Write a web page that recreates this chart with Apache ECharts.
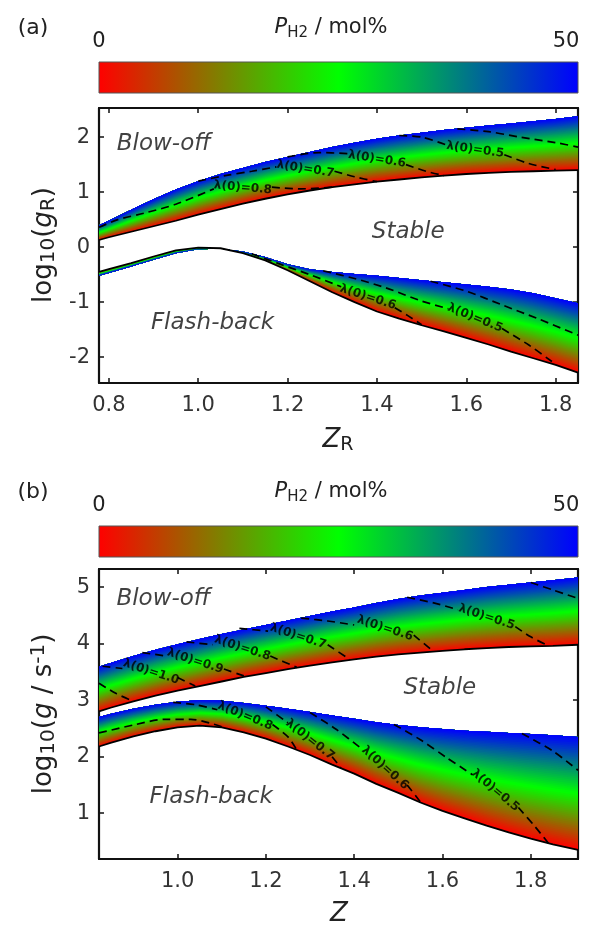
<!DOCTYPE html>
<html>
<head>
<meta charset="utf-8">
<script src="https://cdn.jsdelivr.net/npm/echarts@6/dist/echarts.min.js"></script>
<style>
html,body{margin:0;padding:0;background:#fff;}
#main{width:593px;height:926px;}
</style>
</head>
<body>
<div id="main"></div>
<script>
var FONT = 'DejaVu Sans';
// colour map of P_H2 (0 -> 50 mol%)
var cmap = ['#ff0000', '#00ff00', '#0000ff'];
var barTicks = ['0', '50'];

var xTicksA = [0.8, 1.0, 1.2, 1.4, 1.6, 1.8];
var yTicksA = [-2, -1, 0, 1, 2];
var xTicksB = [1.0, 1.2, 1.4, 1.6, 1.8];
var yTicksB = [1, 2, 3, 4, 5];

// (a) log10(gR) vs ZR, lower edge = 0 mol%, upper edge = 50 mol%
var zA = [0.778, 0.8, 0.85, 0.9, 0.95, 1.0, 1.05, 1.1, 1.15, 1.2, 1.25, 1.3, 1.35, 1.4, 1.45, 1.5, 1.55, 1.6, 1.65, 1.7, 1.75, 1.8, 1.85];
var blowLoA = [0.13, 0.18, 0.28, 0.38, 0.48, 0.59, 0.69, 0.79, 0.88, 0.96, 1.03, 1.09, 1.14, 1.19, 1.23, 1.27, 1.30, 1.33, 1.35, 1.37, 1.38, 1.39, 1.40];
var blowHiA = [0.40, 0.48, 0.68, 0.87, 1.05, 1.20, 1.33, 1.44, 1.55, 1.64, 1.73, 1.82, 1.90, 1.97, 2.03, 2.08, 2.13, 2.17, 2.21, 2.25, 2.29, 2.33, 2.38];
var flashLoA = [-0.45, -0.40, -0.29, -0.17, -0.06, -0.01, -0.02, -0.11, -0.24, -0.42, -0.62, -0.82, -1.0, -1.17, -1.3, -1.42, -1.53, -1.65, -1.77, -1.90, -2.02, -2.14, -2.28];
var flashHiA = [-0.52, -0.47, -0.35, -0.23, -0.11, -0.04, -0.03, -0.08, -0.18, -0.31, -0.40, -0.45, -0.49, -0.52, -0.56, -0.60, -0.64, -0.68, -0.72, -0.77, -0.84, -0.93, -1.02];

// (b) log10(g / s-1) vs Z
var zB = [0.822, 0.85, 0.9, 0.95, 1.0, 1.05, 1.1, 1.15, 1.2, 1.25, 1.3, 1.35, 1.4, 1.45, 1.5, 1.55, 1.6, 1.65, 1.7, 1.75, 1.8, 1.85, 1.907];
var blowLoB = [2.80, 2.87, 2.98, 3.08, 3.17, 3.25, 3.33, 3.41, 3.48, 3.55, 3.61, 3.67, 3.72, 3.77, 3.81, 3.84, 3.87, 3.90, 3.92, 3.94, 3.95, 3.96, 3.98];
var blowHiB = [3.59, 3.66, 3.78, 3.89, 3.99, 4.08, 4.17, 4.25, 4.33, 4.41, 4.49, 4.57, 4.64, 4.72, 4.79, 4.85, 4.90, 4.95, 5.00, 5.04, 5.08, 5.12, 5.17];
var flashLoB = [2.18, 2.25, 2.36, 2.45, 2.52, 2.55, 2.52, 2.43, 2.32, 2.18, 2.03, 1.86, 1.70, 1.52, 1.36, 1.19, 1.04, 0.91, 0.78, 0.66, 0.55, 0.45, 0.35];
var flashHiB = [2.70, 2.76, 2.85, 2.92, 2.97, 3.00, 2.99, 2.95, 2.90, 2.85, 2.79, 2.73, 2.67, 2.61, 2.56, 2.52, 2.49, 2.46, 2.44, 2.42, 2.40, 2.38, 2.35];

// lambda(0) contours, split where the label sits
var contA = [
  [[[0.778, 0.36], [0.82, 0.5], [0.88, 0.62], [0.95, 0.78], [1.035, 1.06]], [[1.165, 1.09], [1.23, 1.06], [1.3, 1.09]]],
  [[[1.0, 1.2], [1.06, 1.3], [1.12, 1.38], [1.175, 1.46]], [[1.305, 1.38], [1.35, 1.28], [1.4, 1.19]]],
  [[[1.2, 1.64], [1.27, 1.72], [1.335, 1.7]], [[1.465, 1.5], [1.51, 1.38], [1.55, 1.3]]],
  [[[1.45, 2.03], [1.5, 2.0], [1.555, 1.86]], [[1.685, 1.68], [1.74, 1.52], [1.8, 1.41]]],
  [[[1.58, 2.15], [1.65, 2.1], [1.72, 2.0], [1.8, 1.9], [1.85, 1.82]]],
  [[[1.12, -0.12], [1.18, -0.3], [1.25, -0.5], [1.32, -0.72]], [[1.44, -1.1], [1.47, -1.25], [1.5, -1.41]]],
  [[[1.28, -0.43], [1.35, -0.57], [1.42, -0.74], [1.5, -0.98], [1.56, -1.12]], [[1.68, -1.48], [1.74, -1.78], [1.79, -2.07], [1.8, -2.13]]],
  [[[1.52, -0.62], [1.6, -0.8], [1.68, -1.05], [1.76, -1.3], [1.85, -1.6]]]
];
var contB = [
  [[[0.822, 3.3], [0.86, 3.12], [0.9, 2.98]]],
  [[[0.83, 3.6], [0.875, 3.56]], [[1.0, 3.4], [1.04, 3.25]]],
  [[[0.92, 3.84], [0.975, 3.78]], [[1.105, 3.55], [1.15, 3.43]]],
  [[[1.02, 4.03], [1.08, 3.98]], [[1.21, 3.78], [1.27, 3.58]]],
  [[[1.14, 4.27], [1.205, 4.22]], [[1.34, 3.98], [1.39, 3.72]]],
  [[[1.28, 4.45], [1.34, 4.4], [1.4, 4.33]], [[1.535, 4.15], [1.58, 3.86]]],
  [[[1.52, 4.82], [1.58, 4.72], [1.635, 4.6]], [[1.765, 4.3], [1.8, 4.12], [1.84, 3.96]]],
  [[[1.8, 5.08], [1.85, 4.95], [1.907, 4.8]]],
  [[[0.822, 2.42], [0.9, 2.56], [0.97, 2.66], [1.03, 2.66], [1.1, 2.53]]],
  [[[0.99, 2.96], [1.04, 2.92], [1.09, 2.83]], [[1.215, 2.57], [1.25, 2.35], [1.27, 2.12]]],
  [[[1.2, 2.88], [1.25, 2.6]], [[1.35, 2.0], [1.37, 1.8]]],
  [[[1.3, 2.78], [1.36, 2.48], [1.42, 2.12]], [[1.52, 1.5], [1.55, 1.2]]],
  [[[1.49, 2.57], [1.55, 2.3], [1.61, 1.98], [1.668, 1.68]], [[1.772, 1.1], [1.81, 0.76], [1.84, 0.47]]],
  [[[1.78, 2.41], [1.85, 2.1], [1.907, 1.76]]]
];

var labA = [['λ(0)=0.8', 1.10, 1.08], ['λ(0)=0.7', 1.24, 1.42], ['λ(0)=0.6', 1.40, 1.6], ['λ(0)=0.5', 1.62, 1.77], ['λ(0)=0.6', 1.38, -0.91], ['λ(0)=0.5', 1.62, -1.29]];
var rotA = [-5, -9, -9, -8, -18, -22];
var labB = [['λ(0)=1.0', 0.94, 3.5], ['λ(0)=0.9', 1.04, 3.69], ['λ(0)=0.8', 1.147, 3.92], ['λ(0)=0.7', 1.273, 4.13], ['λ(0)=0.6', 1.47, 4.27], ['λ(0)=0.5', 1.70, 4.47],
  ['λ(0)=0.8', 1.153, 2.72], ['λ(0)=0.7', 1.30, 2.3], ['λ(0)=0.6', 1.47, 1.8], ['λ(0)=0.5', 1.72, 1.4]];
var rotB = [-18, -18, -18, -18, -18, -18, -22, -38, -42, -40];

var regionA = [['Blow-off', 0.923, 1.87], ['Stable', 1.47, 0.27], ['Flash-back', 1.032, -1.38]];
var regionB = [['Blow-off', 0.968, 4.79], ['Stable', 1.594, 3.21], ['Flash-back', 1.076, 1.28]];

var STRIPS = 60;
var stops = cmap.map(function (c, i) { return {offset: i / (cmap.length - 1), color: c}; });
function cmapAt(t) {
  var n = cmap.length - 1, k = Math.min(n - 1, Math.floor(t * n)), f = t * n - k;
  var a = echarts.color.parse(cmap[k]), b = echarts.color.parse(cmap[k + 1]);
  return 'rgb(' + [0, 1, 2].map(function (j) { return Math.round(a[j] + (b[j] - a[j]) * f); }).join(',') + ')';
}

var series = [];

// strip k covers from the k/N blend of the 0% and 50% edges up to the 50% edge,
// later strips paint over earlier ones so no seams show
function band(g, zs, lo, hi) {
  var strips = [];
  for (var k = 0; k < STRIPS; k++) strips.push([zs[0], lo[0], k]);
  series.push({
    type: 'custom', xAxisIndex: g * 2, yAxisIndex: g * 2, silent: true, z: 1,
    data: strips,
    renderItem: function (params, api) {
      var k = params.dataIndex, t0 = k / STRIPS;
      var pts = [], i;
      for (i = 0; i < zs.length; i++) pts.push(api.coord([zs[i], lo[i] + (hi[i] - lo[i]) * t0]));
      for (i = zs.length - 1; i >= 0; i--) pts.push(api.coord([zs[i], hi[i]]));
      return {type: 'polygon', shape: {points: pts}, style: {fill: cmapAt((k + 0.5) / STRIPS)}};
    }
  });
  series.push({
    type: 'line', xAxisIndex: g * 2, yAxisIndex: g * 2, silent: true, z: 3, symbol: 'none',
    data: zs.map(function (z, i) { return [z, lo[i]]; }),
    lineStyle: {color: '#000', width: 1.8}
  });
}

function contours(g, list) {
  list.forEach(function (segs) {
    segs.forEach(function (seg) {
      series.push({
        type: 'line', xAxisIndex: g * 2, yAxisIndex: g * 2, silent: true, z: 4, symbol: 'none',
        smooth: 0.3, data: seg,
        lineStyle: {color: '#000', width: 1.7, type: [8, 5]}
      });
    });
  });
}

function texts(g, list, rots, lab) {
  series.push({
    type: 'scatter', xAxisIndex: g * 2, yAxisIndex: g * 2, silent: true, z: 5,
    symbolSize: 1, itemStyle: {color: 'rgba(0,0,0,0)'},
    data: list.map(function (l, i) {
      return {name: l[0], value: [l[1], l[2]], label: {rotate: rots ? rots[i] : 0}};
    }),
    label: Object.assign({show: true, position: 'inside', formatter: '{b}', fontFamily: FONT}, lab)
  });
}

band(0, zA, blowLoA, blowHiA);
band(0, zA, flashLoA, flashHiA);
band(1, zB, blowLoB, blowHiB);
band(1, zB, flashLoB, flashHiB);
contours(0, contA);
contours(1, contB);
var lamStyle = {fontSize: 12, fontWeight: 'bold', color: '#000'};
var regStyle = {fontSize: 23, fontStyle: 'italic', color: '#111'};
texts(0, labA, rotA, lamStyle);
texts(1, labB, rotB, lamStyle);
texts(0, regionA, null, regStyle);
texts(1, regionB, null, regStyle);

function xAx(grid, min, max, ticks, pos) {
  return {
    type: 'value', gridIndex: grid, min: min, max: max, position: pos,
    axisLine: {show: true, onZero: false, lineStyle: {color: '#111', width: 2.2}},
    axisTick: {show: true, inside: true, length: 5, customValues: ticks, lineStyle: {color: '#111', width: 1.5}},
    axisLabel: {show: pos === 'bottom', customValues: ticks, margin: 12, fontFamily: FONT, fontSize: 21, color: '#333',
      formatter: function (v) { return v.toFixed(1); }},
    splitLine: {show: false}
  };
}
function yAx(grid, min, max, ticks, pos) {
  return {
    type: 'value', gridIndex: grid, min: min, max: max, position: pos,
    axisLine: {show: true, onZero: false, lineStyle: {color: '#111', width: 2.2}},
    axisTick: {show: true, inside: true, length: 5, customValues: ticks, lineStyle: {color: '#111', width: 1.5}},
    axisLabel: {show: pos === 'left', customValues: ticks, margin: 9, fontFamily: FONT, fontSize: 21, color: '#333',
      formatter: function (v) { return String(v); }},
    splitLine: {show: false}
  };
}

var mainTxt = {fontFamily: FONT, fill: '#222'};
function rich(size, sub) {
  return {
    m: Object.assign({fontSize: size, lineHeight: size + 4}, mainTxt),
    i: Object.assign({fontSize: size, lineHeight: size + 4, fontStyle: 'italic'}, mainTxt),
    s: Object.assign({fontSize: sub, lineHeight: sub, verticalAlign: 'bottom'}, mainTxt),
    p: Object.assign({fontSize: sub, lineHeight: sub, verticalAlign: 'top'}, mainTxt)
  };
}
function label(x, y, txt, size, sub, rot) {
  return {type: 'text', x: x, y: y, rotation: rot || 0, silent: true,
    style: {text: txt, rich: rich(size, sub), align: 'center', verticalAlign: 'middle', fontFamily: FONT}};
}
function colorbar(top, tag) {
  return [
    {type: 'rect', silent: true, shape: {x: 99, y: top, width: 479, height: 31},
      style: {fill: {type: 'linear', x: 0, y: 0, x2: 1, y2: 0, colorStops: stops}, stroke: '#555', lineWidth: 1}},
    label(33, top - 34, '{m|' + tag + '}', 22, 15),
    label(331, top - 34, '{i|P}{s|H2}{m| / mol%}', 21, 15),
    label(99, top - 20, '{m|' + barTicks[0] + '}', 21, 15),
    label(566, top - 20, '{m|' + barTicks[1] + '}', 21, 15)
  ];
}

var chart = echarts.init(document.getElementById('main'));
chart.setOption({
  animation: false,
  backgroundColor: '#fff',
  grid: [
    {left: 99, top: 108, width: 479, height: 275},
    {left: 99, top: 569, width: 479, height: 290}
  ],
  xAxis: [
    xAx(0, 0.778, 1.85, xTicksA, 'bottom'),
    xAx(0, 0.778, 1.85, xTicksA, 'top'),
    xAx(1, 0.822, 1.907, xTicksB, 'bottom'),
    xAx(1, 0.822, 1.907, xTicksB, 'top')
  ],
  yAxis: [
    yAx(0, -2.47, 2.53, yTicksA, 'left'),
    yAx(0, -2.47, 2.53, yTicksA, 'right'),
    yAx(1, 0.19, 5.32, yTicksB, 'left'),
    yAx(1, 0.19, 5.32, yTicksB, 'right')
  ],
  graphic: colorbar(62, '(a)').concat(colorbar(526, '(b)')).concat([
    label(338, 440, '{i|Z}{s|R}', 26, 19),
    label(44, 245, '{m|log}{s|10}{m|(}{i|g}{s|R}{m|)}', 26, 20, Math.PI / 2),
    label(339, 914, '{i|Z}', 26, 19),
    label(44, 714, '{m|log}{s|10}{m|(}{i|g}{m| / s}{p|-1}{m|)}', 26, 20, Math.PI / 2)
  ]),
  series: series
});
</script>
</body>
</html>
